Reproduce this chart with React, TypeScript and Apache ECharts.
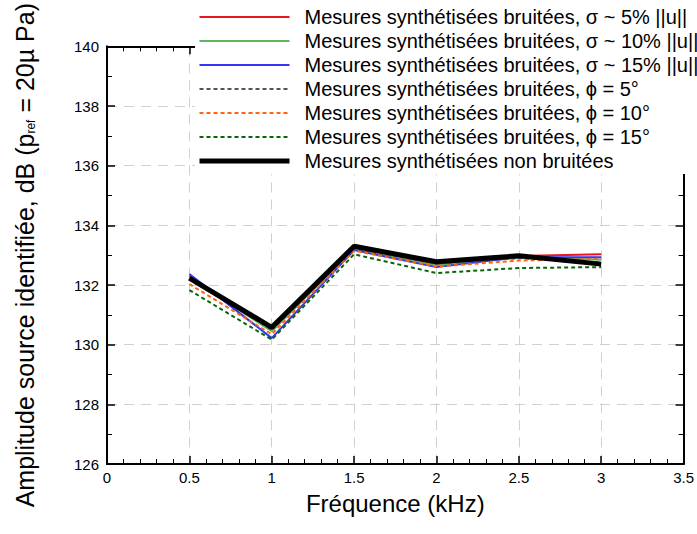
import React, { useEffect, useRef } from "react";
import * as echarts from "echarts";

const frequencies = [0.5, 1, 1.5, 2, 2.5, 3];
const sigma5 = [132.3, 130.5, 133.25, 132.7, 132.97, 133.03];
const sigma10 = [132.25, 130.45, 133.2, 132.65, 132.93, 132.85];
const sigma15 = [132.37, 130.22, 133.17, 132.6, 132.93, 132.93];
const phi5 = [132.2, 130.5, 133.22, 132.72, 132.9, 132.75];
const phi10 = [132.03, 130.35, 133.15, 132.62, 132.82, 132.88];
const phi15 = [131.83, 130.17, 133.03, 132.4, 132.57, 132.6];
const nonNoisy = [132.23, 130.58, 133.3, 132.78, 132.98, 132.7];

const seriesNames = [
  "Mesures synthétisées bruitées, σ ~ 5% ||u||",
  "Mesures synthétisées bruitées, σ ~ 10% ||u||",
  "Mesures synthétisées bruitées, σ ~ 15% ||u||",
  "Mesures synthétisées bruitées, ϕ = 5°",
  "Mesures synthétisées bruitées, ϕ = 10°",
  "Mesures synthétisées bruitées, ϕ = 15°",
  "Mesures synthétisées non bruitées",
];

const FONT = "Liberation Sans, Arial, Helvetica, sans-serif";

export default function App() {
  const ref = useRef<HTMLDivElement>(null);
  useEffect(() => {
    if (!ref.current) return;
    const chart = echarts.init(ref.current, undefined, { renderer: "svg" });
    const pts = (v: number[]) => frequencies.map((f, i) => [f, v[i]]);
    const styles = [
      { color: "#e8161c", type: "solid", width: 2, data: sigma5 },
      { color: "#5db55d", type: "solid", width: 2, data: sigma10 },
      { color: "#3535f5", type: "solid", width: 2, data: sigma15 },
      { color: "#555555", type: [4, 3], width: 2, data: phi5 },
      { color: "#ff6410", type: [4, 3], width: 2, data: phi10 },
      { color: "#0a640a", type: [4, 3], width: 2, data: phi15 },
      { color: "#000000", type: "solid", width: 5, data: nonNoisy },
    ];
    const axisCommon = {
      min: 0,
      max: 3.5,
      interval: 0.5,
    };
    chart.setOption({
      animation: false,
      backgroundColor: "#ffffff",
      textStyle: { fontFamily: FONT },
      grid: { left: 107, right: 8, top: 46, bottom: 70, containLabel: false },
      legend: {
        orient: "vertical",
        left: 195,
        top: 7,
        padding: [0, 0, 3, 2],
        itemWidth: 90,
        itemHeight: 14,
        itemGap: 4,
        backgroundColor: "#ffffff",
        itemStyle: { opacity: 0 },
        textStyle: { fontSize: 20, color: "#000", fontFamily: FONT, padding: [0, 0, 0, 10] },
        data: seriesNames.map((n, i) => ({
          name: n,
          lineStyle: { width: styles[i].width, type: styles[i].type, color: styles[i].color },
        })),
        z: 10,
      },
      xAxis: [
        {
          type: "value",
          ...axisCommon,
          name: "Fréquence (kHz)",
          nameLocation: "middle",
          nameGap: 27,
          nameTextStyle: { fontSize: 24, color: "#000", fontFamily: FONT },
          axisLine: { show: true, onZero: false, lineStyle: { color: "#000", width: 2 } },
          axisTick: { show: true, inside: true, length: 8, lineStyle: { color: "#000", width: 1.5 } },
          minorTick: { show: true, splitNumber: 5, length: 5, lineStyle: { color: "#000", width: 1 } },
          axisLabel: { fontSize: 15, color: "#000", margin: 6, fontFamily: FONT },
          splitLine: { show: true, lineStyle: { color: "#d0d0d0", type: [10, 7], width: 1 } },
        },
        {
          type: "value",
          ...axisCommon,
          position: "top",
          axisLine: { show: true, onZero: false, lineStyle: { color: "#000", width: 2 } },
          axisTick: { show: true, inside: true, length: 8, lineStyle: { color: "#000", width: 1.5 } },
          minorTick: { show: true, splitNumber: 5, length: 5, lineStyle: { color: "#000", width: 1 } },
          axisLabel: { show: false },
          splitLine: { show: false },
        },
      ],
      yAxis: [
        {
          type: "value",
          min: 126,
          max: 140,
          interval: 2,
          name: "Amplitude source identifiée, dB (p{sub|ref} = 20µ Pa)",
          nameLocation: "middle",
          nameGap: 70,
          nameRotate: 90,
          nameTextStyle: {
            fontSize: 25,
            color: "#000",
            fontFamily: FONT,
            rich: {
              sub: { fontSize: 12, padding: [12, 0, 0, 0], fontFamily: FONT, color: "#000" },
            },
          },
          axisLine: { show: true, onZero: false, lineStyle: { color: "#000", width: 2 } },
          axisTick: { show: true, inside: true, length: 8, lineStyle: { color: "#000", width: 1.5 } },
          minorTick: { show: true, splitNumber: 2, length: 5, lineStyle: { color: "#000", width: 1 } },
          axisLabel: { fontSize: 15, color: "#000", margin: 8, fontFamily: FONT },
          splitLine: { show: true, lineStyle: { color: "#d0d0d0", type: [10, 7], width: 1 } },
        },
        {
          type: "value",
          min: 126,
          max: 140,
          interval: 2,
          position: "right",
          axisLine: { show: true, onZero: false, lineStyle: { color: "#000", width: 2 } },
          axisTick: { show: true, inside: true, length: 8, lineStyle: { color: "#000", width: 1.5 } },
          minorTick: { show: true, splitNumber: 2, length: 5, lineStyle: { color: "#000", width: 1 } },
          axisLabel: { show: false },
          splitLine: { show: false },
        },
      ],
      series: styles.map((s, i) => ({
        name: seriesNames[i],
        type: "line",
        xAxisIndex: 0,
        yAxisIndex: 0,
        showSymbol: false,
        symbol: "none",
        data: pts(s.data),
        itemStyle: { color: s.color },
        lineStyle: { color: s.color, type: s.type, width: s.width },
        z: 2 + i,
      })),
    });
    return () => chart.dispose();
  }, []);
  return <div ref={ref} style={{ width: 697, height: 534, position: "absolute", left: 0, top: 0 }} />;
}
